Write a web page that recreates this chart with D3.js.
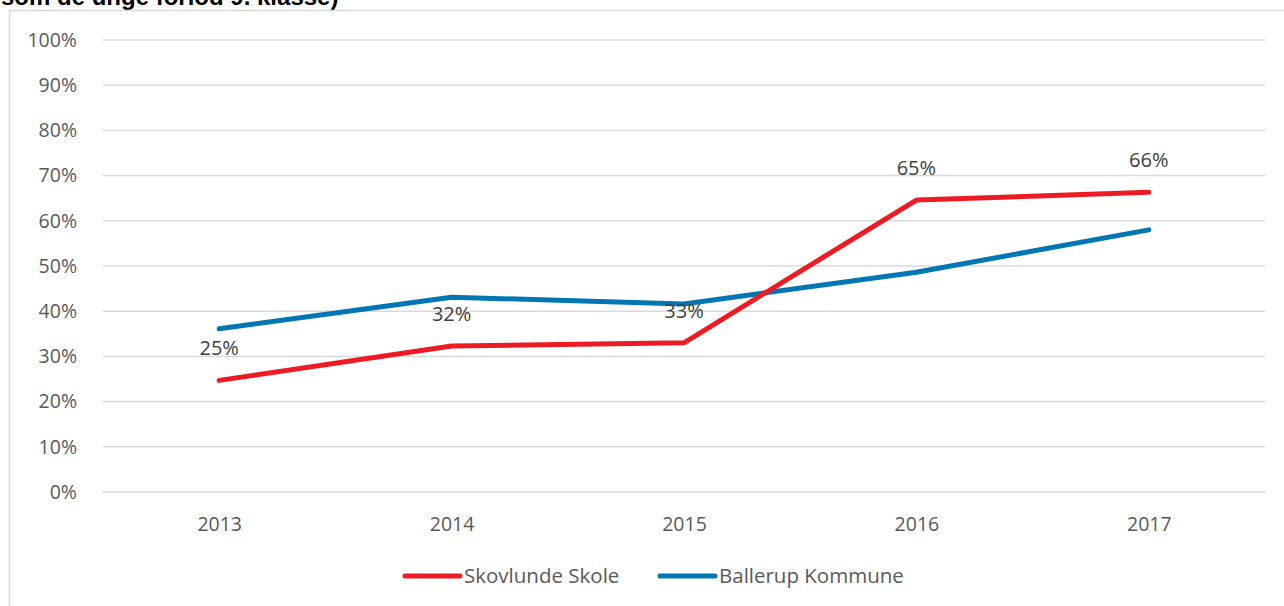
<!DOCTYPE html>
<html>
<head>
<meta charset="utf-8">
<script src="https://cdn.jsdelivr.net/npm/d3@7"></script>
<style>
  body { margin: 0; background: #fff; }
  svg { display: block; }
</style>
</head>
<body>
<div id="chart"></div>
<script>
var years = ['2013', '2014', '2015', '2016', '2017'];
var skovlunde = [0.247, 0.323, 0.330, 0.646, 0.663];
var ballerup = [0.361, 0.431, 0.416, 0.486, 0.580];
var labels = ['25%', '32%', '33%', '65%', '66%'];
var yTicks = [0, 0.1, 0.2, 0.3, 0.4, 0.5, 0.6, 0.7, 0.8, 0.9, 1];
var seriesNames = ['Skovlunde Skole', 'Ballerup Kommune'];
var seriesColors = ['#ed1c24', '#0077b3'];

var W = 1284, H = 606;
var plotLeft = 103, plotRight = 1265, plotTop = 40, plotBottom = 492;
var font = "'Open Sans', sans-serif";

var svg = d3.select('#chart').append('svg')
  .attr('width', W)
  .attr('height', H);

// cut-off title from the page above
svg.append('text')
  .attr('x', 1)
  .attr('y', 5)
  .attr('font-family', "'Liberation Sans', Arial, sans-serif")
  .attr('font-weight', 'bold')
  .attr('font-size', 24)
  .attr('fill', '#000')
  .text('som de unge forlod 9. klasse)');

// chart area border
svg.append('rect')
  .attr('x', 9.5)
  .attr('y', 10.5)
  .attr('width', 1400)
  .attr('height', 700)
  .attr('fill', 'none')
  .attr('stroke', '#d9d9d9')
  .attr('stroke-width', 1.5);

var x = d3.scalePoint()
  .domain(years)
  .range([plotLeft, plotRight])
  .padding(0.5);

var y = d3.scaleLinear()
  .domain([0, 1])
  .range([plotBottom, plotTop]);

// gridlines
svg.append('g')
  .selectAll('line')
  .data(yTicks)
  .enter()
  .append('line')
  .attr('x1', plotLeft)
  .attr('x2', plotRight)
  .attr('y1', function(d) { return y(d); })
  .attr('y2', function(d) { return y(d); })
  .attr('stroke', '#d9d9d9')
  .attr('stroke-width', 1.5);

var yAxis = svg.append('g')
  .attr('transform', 'translate(' + (plotLeft - 23) + ',0)')
  .call(d3.axisLeft(y).tickValues(yTicks).tickSize(0).tickFormat(d3.format('.0%')));
yAxis.select('.domain').remove();
yAxis.selectAll('text')
  .attr('font-family', font)
  .attr('font-size', 19.5)
  .attr('fill', '#595959');

var xAxis = svg.append('g')
  .attr('transform', 'translate(0,' + (plotBottom + 22) + ')')
  .call(d3.axisBottom(x).tickSize(0));
xAxis.select('.domain').remove();
xAxis.selectAll('text')
  .attr('dy', '0.71em')
  .attr('font-family', font)
  .attr('font-size', 19.5)
  .attr('fill', '#595959');

var line = d3.line()
  .x(function(d, i) { return x(years[i]); })
  .y(function(d) { return y(d); });

[ballerup, skovlunde].forEach(function(data, k) {
  svg.append('path')
    .datum(data)
    .attr('d', line)
    .attr('fill', 'none')
    .attr('stroke', k == 0 ? seriesColors[1] : seriesColors[0])
    .attr('stroke-width', 5)
    .attr('stroke-linecap', 'round')
    .attr('stroke-linejoin', 'round');
});

// data labels on the school series
svg.append('g')
  .selectAll('text')
  .data(skovlunde)
  .enter()
  .append('text')
  .attr('x', function(d, i) { return x(years[i]); })
  .attr('y', function(d) { return y(d) - 25; })
  .attr('text-anchor', 'middle')
  .attr('font-family', font)
  .attr('font-size', 20)
  .attr('fill', '#404040')
  .text(function(d, i) { return labels[i]; });

// legend
var legendX = [405, 660];
var legend = svg.append('g')
  .selectAll('g')
  .data(seriesNames)
  .enter()
  .append('g')
  .attr('transform', function(d, i) { return 'translate(' + legendX[i] + ',576)'; });
legend.append('line')
  .attr('x1', 0)
  .attr('x2', 55)
  .attr('stroke', function(d, i) { return seriesColors[i]; })
  .attr('stroke-width', 5)
  .attr('stroke-linecap', 'round');
legend.append('text')
  .attr('x', 59)
  .attr('dy', '0.35em')
  .attr('font-family', font)
  .attr('font-size', 20.5)
  .attr('fill', '#595959')
  .text(function(d) { return d; });
</script>
</body>
</html>
